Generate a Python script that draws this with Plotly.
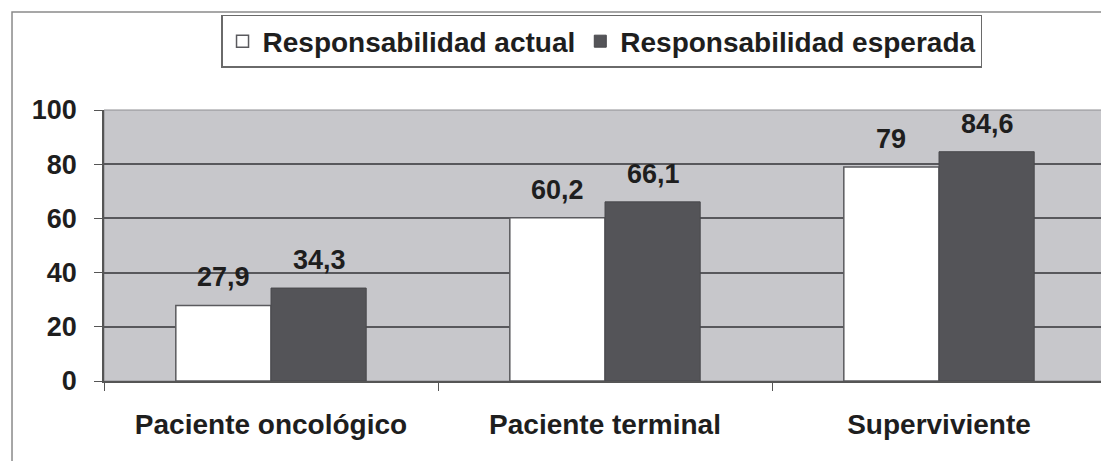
import plotly.graph_objects as go

categories = ["Paciente oncológico", "Paciente terminal", "Superviviente"]
actual = [27.9, 60.2, 79]
esperada = [34.3, 66.1, 84.6]
series_names = ["Responsabilidad actual", "Responsabilidad esperada"]
y_ticks = [0, 20, 40, 60, 80, 100]

FONT = "Liberation Sans, Arial, sans-serif"
TXT = "#1e1e1e"

def fmt(v):
    s = f"{v:g}"
    return s.replace(".", ",")

fig = go.Figure()
fig.add_trace(go.Bar(
    name=series_names[0], x=categories, y=actual,
    marker=dict(color="#ffffff", line=dict(color="#5a5a5e", width=1.5)),
))
fig.add_trace(go.Bar(
    name=series_names[1], x=categories, y=esperada,
    marker=dict(color="#545458", line=dict(color="#48484c", width=1)),
))

# data labels
for vals, shift in ((actual, -48), (esperada, 48)):
    for c, v in zip(categories, vals):
        fig.add_annotation(x=c, y=v, text=fmt(v), showarrow=False,
                           xref="x", yref="y", xshift=shift, yshift=28,
                           yanchor="middle",
                           font=dict(family=FONT, size=27, color=TXT, weight="bold"))

# outer frame
fig.add_shape(type="rect", xref="paper", yref="paper",
              x0=-0.0918, x1=1.02, y0=-0.4, y1=1.3616,
              line=dict(color="#8a8a8a", width=1.5), layer="below")
# plot-area border
fig.add_shape(type="rect", xref="paper", yref="paper", x0=0, x1=1, y0=0, y1=1,
              line=dict(color="#8e8e92", width=1), layer="below")

fig.update_layout(
    width=1101, height=453,
    margin=dict(l=96, r=3, t=102, b=80, autoexpand=False),
    paper_bgcolor="#ffffff",
    plot_bgcolor="#c7c7cb",
    barmode="group",
    bargap=0.43,
    bargroupgap=0,
    showlegend=True,
    legend=dict(orientation="h", x=0.1168, xanchor="left", y=1.3506, yanchor="top",
                bgcolor="#ffffff", bordercolor="#6a6a6a", borderwidth=1.5,
                font=dict(family=FONT, size=28, color=TXT, weight="bold"),
                itemwidth=30, traceorder="normal"),
    font=dict(family=FONT, color=TXT),
    xaxis=dict(showgrid=False, ticks="outside", tickson="boundaries", ticklen=8,
               tickcolor="#555555", showline=True, linecolor="#555555", linewidth=1.5,
               tickfont=dict(family=FONT, size=28, color=TXT, weight="bold"),
               ticklabelstandoff=18, automargin=False),
    yaxis=dict(range=[0, 100], tickvals=y_ticks, showgrid=True, gridcolor="#58585c",
               gridwidth=1.5, zeroline=False, ticks="outside", ticklen=8,
               tickcolor="#555555", showline=True, linecolor="#555555", linewidth=1.5,
               tickfont=dict(family=FONT, size=27, color=TXT, weight="bold"),
               ticklabelstandoff=12, automargin=False),
)

fig.write_html("out.html")
